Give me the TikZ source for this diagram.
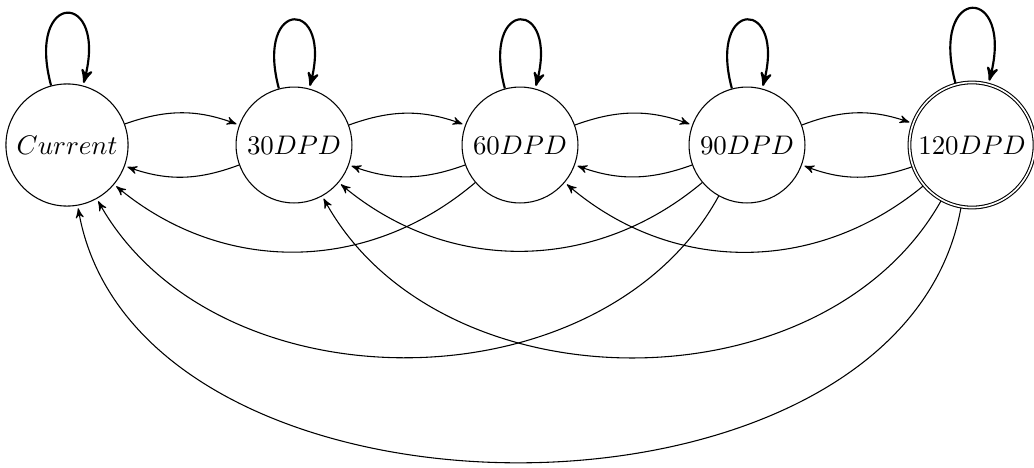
\documentclass[tikz,border=0pt]{standalone}
\usetikzlibrary{automata,arrows}
\begin{document}
\begin{tikzpicture}[x=0.3718pt,y=-0.3718pt,
  ->,>=stealth',shorten >=1pt,
  every state/.style={draw,circle,inner sep=0pt},
  ministate/.style={state,minimum size=43.1pt},
  every loop/.style={thick}]
\useasboundingbox (0,0) rectangle (1034,468);
\node[state,minimum size=45.4pt] (C) at (67,145) {$Current$};
\node[ministate] (D30) at (294,145) {$30DPD$};
\node[ministate] (D60) at (520,145) {$60DPD$};
\node[ministate] (D90) at (747,145) {$90DPD$};
\node[state,accepting,minimum size=46.5pt] (D120) at (972,145) {$120DPD$};
\path
  (C) edge[loop above] (C)
  (D30) edge[loop above] (D30)
  (D60) edge[loop above] (D60)
  (D90) edge[loop above] (D90)
  (D120) edge[loop above] (D120)
  (C) edge[bend left=20] (D30)
  (D30) edge[bend left=20] (C)
  (D30) edge[bend left=20] (D60)
  (D60) edge[bend left=20] (D30)
  (D60) edge[bend left=20] (D90)
  (D90) edge[bend left=20] (D60)
  (D90) edge[bend left=20] (D120)
  (D120) edge[bend left=20] (D90)
  (D60) edge[bend left=40] (C)
  (D90) edge[bend left=40] (D30)
  (D120) edge[bend left=40] (D60)
  (D90) edge[bend left=61] (C)
  (D120) edge[bend left=61] (D30)
  (D120) edge[bend left=80] (C);
\end{tikzpicture}
\end{document}
